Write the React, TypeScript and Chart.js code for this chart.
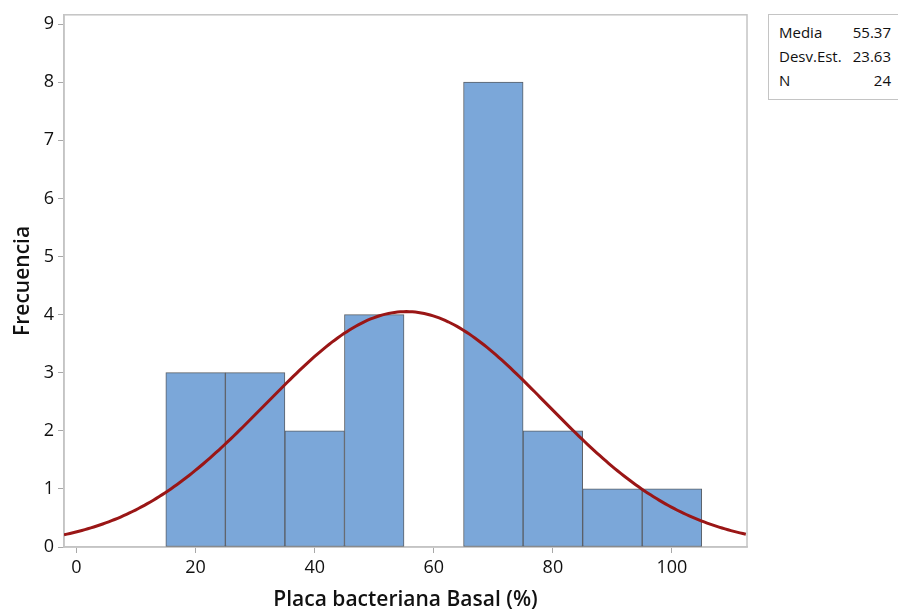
import React, { useEffect, useRef } from "react";
import { Chart, registerables } from "chart.js";

Chart.register(...registerables);

// Histogram bins (class midpoints, width 10) and frequencies
const binCenters = [20, 30, 40, 50, 60, 70, 80, 90, 100];
const frequencies = [3, 3, 2, 4, 0, 8, 2, 1, 1];
const BIN_WIDTH = 10;

// Fitted normal distribution summary
const MEDIA = 55.37;
const DESV_EST = 23.63;
const N = 24;

const xTicks = [0, 20, 40, 60, 80, 100];
const yTicks = [0, 1, 2, 3, 4, 5, 6, 7, 8, 9];
const X_MIN = -2.1;
const X_MAX = 112.6;
const Y_MAX = 9.16;

const statsRows: [string, string][] = [
  ["Media", MEDIA.toFixed(2)],
  ["Desv.Est.", DESV_EST.toFixed(2)],
  ["N", String(N)],
];

const FONT = "'Open Sans', 'Noto Sans', sans-serif";

function normalCurve() {
  const pts: { x: number; y: number }[] = [];
  const scale = (N * BIN_WIDTH) / (DESV_EST * Math.sqrt(2 * Math.PI));
  for (let x = X_MIN; x <= X_MAX + 1e-9; x += 0.5) {
    const z = (x - MEDIA) / DESV_EST;
    pts.push({ x, y: scale * Math.exp(-0.5 * z * z) });
  }
  return pts;
}

const frameBorder = {
  id: "frameBorder",
  beforeDatasetsDraw(chart: any) {
    const { ctx, chartArea } = chart;
    ctx.save();
    ctx.strokeStyle = "#c4c4c4";
    ctx.lineWidth = 1.5;
    ctx.strokeRect(chartArea.left, chartArea.top, chartArea.right - chartArea.left, chartArea.bottom - chartArea.top);
    ctx.restore();
  },
};

export default function App() {
  const canvasRef = useRef<HTMLCanvasElement | null>(null);

  useEffect(() => {
    if (!canvasRef.current) return;
    const chart = new Chart(canvasRef.current, {
      type: "bar",
      data: {
        datasets: [
          {
            type: "line",
            data: normalCurve(),
            borderColor: "#9a1616",
            borderWidth: 3,
            pointRadius: 0,
            tension: 0,
            order: 0,
          } as any,
          {
            type: "bar",
            data: binCenters.map((c, i) => ({ x: c, y: frequencies[i] })),
            backgroundColor: "#7ba7d9",
            borderColor: "#5a5f66",
            borderWidth: 1,
            borderSkipped: false,
            categoryPercentage: 1,
            barPercentage: 1,
            order: 1,
          } as any,
        ],
      },
      options: {
        responsive: false,
        animation: false,
        layout: { padding: { left: 0, right: 151, top: 14, bottom: 0 } },
        plugins: {
          legend: { display: false },
          tooltip: { enabled: false },
        },
        scales: {
          x: {
            type: "linear",
            min: X_MIN,
            max: X_MAX,
            offset: false,
            afterBuildTicks: (scale: any) => {
              scale.ticks = xTicks.map((v) => ({ value: v }));
            },
            afterFit: (scale: any) => {
              scale.height = 66;
            },
            ticks: {
              autoSkip: false,
              maxRotation: 0,
              padding: 4,
              color: "#111",
              font: { family: FONT, size: 18 },
            },
            grid: {
              display: true,
              offset: false,
              drawOnChartArea: false,
              drawTicks: true,
              tickLength: 6,
              color: "#a8a8a8",
            },
            border: { display: true, color: "#c4c4c4", width: 1.5 },
            title: {
              display: true,
              text: "Placa bacteriana Basal (%)",
              color: "#111",
              font: { family: FONT, size: 21, weight: "600" },
              padding: { top: 0, bottom: 0 },
            },
          },
          y: {
            type: "linear",
            min: 0,
            max: Y_MAX,
            afterBuildTicks: (scale: any) => {
              scale.ticks = yTicks.map((v) => ({ value: v }));
            },
            afterFit: (scale: any) => {
              scale.width = 64;
            },
            ticks: {
              autoSkip: false,
              padding: 4,
              color: "#111",
              font: { family: FONT, size: 18 },
            },
            grid: {
              display: true,
              drawOnChartArea: false,
              drawTicks: true,
              tickLength: 6,
              color: "#a8a8a8",
            },
            border: { display: true, color: "#c4c4c4", width: 1.5 },
            title: {
              display: true,
              text: "Frecuencia",
              color: "#111",
              font: { family: FONT, size: 21, weight: "600" },
              padding: { top: 10, bottom: 0 },
            },
          },
        },
      },
      plugins: [frameBorder],
    });
    return () => chart.destroy();
  }, []);

  return (
    <div style={{ position: "fixed", left: 0, top: 0, width: 898, height: 613, background: "#fff", overflow: "hidden" }}>
      <canvas ref={canvasRef} width={898} height={613} style={{ display: "block" }} />
      <div
        style={{
          position: "absolute",
          left: 768,
          top: 14,
          width: 131,
          height: 86,
          boxSizing: "border-box",
          border: "1.5px solid #c4c4c4",
          background: "#fff",
          fontFamily: FONT,
          fontSize: 15,
          color: "#111",
          padding: "5px 7px 0 10px",
        }}
      >
        {statsRows.map(([k, v]) => (
          <div key={k} style={{ display: "flex", justifyContent: "space-between", lineHeight: "24px" }}>
            <span>{k}</span>
            <span>{v}</span>
          </div>
        ))}
      </div>
    </div>
  );
}
